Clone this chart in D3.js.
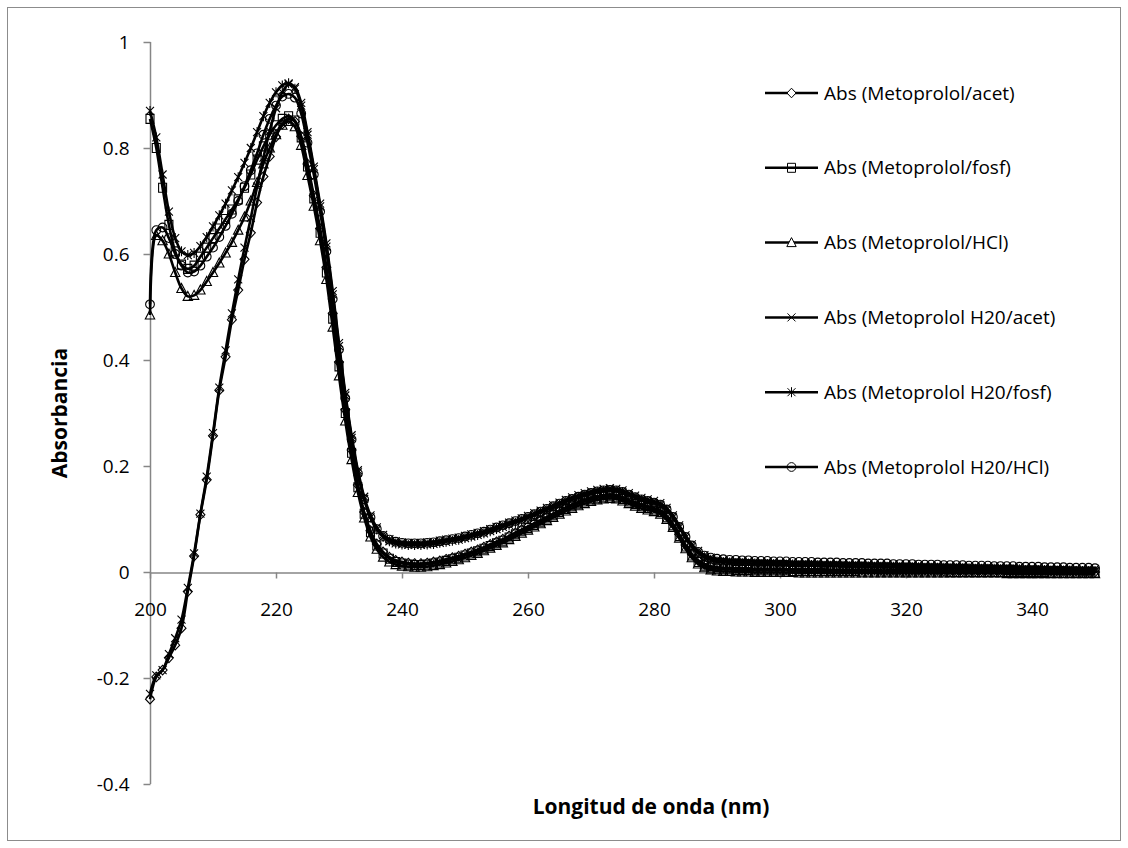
<!DOCTYPE html>
<html><head><meta charset="utf-8">
<script src="https://cdn.jsdelivr.net/npm/d3@7"></script>
<style>body{margin:0;background:#fff}svg{display:block}text{font-family:"Open Sans","Lato",sans-serif}</style>
</head><body><svg id="c" width="1128" height="848"></svg>
<script>
// wavelength grid (nm), 1 nm steps
const nmStart = 200, nmEnd = 350;
const wavelengths = d3.range(nmStart, nmEnd + 1);

const seriesNames = ["Abs (Metoprolol/acet)","Abs (Metoprolol/fosf)","Abs (Metoprolol/HCl)",
  "Abs (Metoprolol H20/acet)","Abs (Metoprolol H20/fosf)","Abs (Metoprolol H20/HCl)"];
const markerTypes = ["diamond","square","triangle","x","star","circle"];

const absAcet = [
-0.240,-0.198,-0.185,-0.162,-0.138,-0.106,-0.037,0.030,0.108,0.174,
0.257,0.343,0.406,0.476,0.532,0.590,0.640,0.697,0.746,0.784,
0.821,0.845,0.855,0.850,0.822,0.770,0.710,0.648,0.575,0.488,
0.396,0.306,0.230,0.164,0.113,0.078,0.053,0.038,0.028,0.022,
0.019,0.017,0.016,0.016,0.017,0.019,0.021,0.024,0.027,0.030,
0.034,0.038,0.042,0.047,0.052,0.057,0.062,0.068,0.074,0.080,
0.086,0.092,0.098,0.104,0.110,0.116,0.122,0.127,0.132,0.136,
0.140,0.143,0.145,0.146,0.145,0.141,0.136,0.131,0.127,0.124,
0.121,0.116,0.106,0.091,0.071,0.051,0.034,0.022,0.015,0.011,
0.009,0.008,0.008,0.007,0.007,0.007,0.006,0.006,0.006,0.006,
0.006,0.005,0.005,0.005,0.005,0.005,0.005,0.005,0.004,0.004,
0.004,0.004,0.004,0.004,0.004,0.004,0.003,0.003,0.003,0.003,
0.003,0.003,0.003,0.003,0.003,0.003,0.002,0.002,0.002,0.002,
0.002,0.002,0.002,0.002,0.002,0.002,0.002,0.001,0.001,0.001,
0.001,0.001,0.001,0.001,0.001,0.001,0.001,0.001,0.000,0.000,0.000];

const absFosf = [
0.855,0.800,0.725,0.655,0.605,0.580,0.572,0.578,0.595,0.612,
0.630,0.648,0.666,0.684,0.703,0.725,0.750,0.778,0.803,0.825,
0.843,0.855,0.860,0.852,0.820,0.765,0.705,0.640,0.565,0.478,
0.388,0.300,0.225,0.160,0.110,0.075,0.050,0.035,0.025,0.019,
0.016,0.014,0.013,0.013,0.014,0.016,0.018,0.021,0.024,0.027,
0.031,0.035,0.039,0.044,0.049,0.054,0.059,0.065,0.071,0.077,
0.083,0.089,0.095,0.101,0.107,0.113,0.119,0.124,0.129,0.133,
0.137,0.140,0.142,0.143,0.142,0.138,0.133,0.128,0.124,0.121,
0.118,0.113,0.103,0.088,0.068,0.048,0.031,0.019,0.012,0.008,
0.006,0.005,0.005,0.004,0.004,0.004,0.003,0.003,0.003,0.003,
0.003,0.003,0.002,0.002,0.002,0.002,0.002,0.002,0.002,0.002,
0.002,0.002,0.002,0.001,0.001,0.001,0.001,0.001,0.001,0.001,
0.001,0.001,0.001,0.001,0.001,0.001,0.001,0.000,0.000,0.000,
0.000,0.000,0.000,0.000,0.000,0.000,0.000,0.000,0.000,0.000,
0.000,0.000,0.000,-0.001,-0.001,-0.001,-0.001,-0.001,-0.001,-0.001,-0.001];

const absHCl = [
0.485,0.635,0.625,0.600,0.565,0.535,0.520,0.522,0.532,0.548,
0.565,0.583,0.602,0.622,0.645,0.670,0.700,0.735,0.770,0.800,
0.825,0.843,0.850,0.840,0.805,0.748,0.690,0.625,0.552,0.462,
0.370,0.285,0.212,0.150,0.102,0.066,0.043,0.028,0.019,0.014,
0.011,0.010,0.009,0.009,0.010,0.012,0.014,0.017,0.020,0.023,
0.027,0.031,0.035,0.040,0.045,0.050,0.055,0.061,0.067,0.073,
0.079,0.085,0.091,0.097,0.103,0.109,0.115,0.120,0.125,0.129,
0.133,0.136,0.138,0.139,0.138,0.134,0.129,0.124,0.120,0.117,
0.114,0.109,0.099,0.084,0.064,0.044,0.027,0.015,0.008,0.004,
0.002,0.001,0.001,0.000,0.000,0.000,-0.001,-0.001,-0.001,-0.001,
-0.001,-0.001,-0.001,-0.002,-0.002,-0.002,-0.002,-0.002,-0.002,-0.002,
-0.002,-0.002,-0.002,-0.002,-0.002,-0.002,-0.002,-0.002,-0.002,-0.002,
-0.002,-0.002,-0.002,-0.002,-0.002,-0.002,-0.002,-0.002,-0.002,-0.002,
-0.002,-0.002,-0.002,-0.002,-0.002,-0.002,-0.003,-0.003,-0.003,-0.003,
-0.003,-0.003,-0.003,-0.003,-0.003,-0.003,-0.003,-0.003,-0.003,-0.003,-0.003];

const absH2oAcet = [
-0.230,-0.195,-0.185,-0.155,-0.125,-0.090,-0.030,0.035,0.110,0.180,
0.262,0.348,0.418,0.488,0.552,0.612,0.668,0.727,0.782,0.832,
0.875,0.905,0.920,0.915,0.885,0.830,0.765,0.695,0.620,0.530,
0.432,0.338,0.258,0.192,0.142,0.107,0.084,0.070,0.062,0.058,
0.056,0.055,0.055,0.055,0.056,0.057,0.059,0.061,0.063,0.065,
0.068,0.071,0.074,0.077,0.081,0.085,0.089,0.093,0.097,0.101,
0.106,0.111,0.116,0.121,0.126,0.131,0.136,0.141,0.145,0.149,
0.152,0.155,0.157,0.158,0.157,0.154,0.149,0.144,0.140,0.137,
0.134,0.130,0.121,0.107,0.088,0.069,0.052,0.040,0.032,0.027,
0.024,0.023,0.022,0.021,0.021,0.020,0.020,0.019,0.019,0.019,
0.018,0.018,0.018,0.017,0.017,0.017,0.017,0.016,0.016,0.016,
0.016,0.015,0.015,0.015,0.015,0.014,0.014,0.014,0.014,0.013,
0.013,0.013,0.013,0.012,0.012,0.012,0.012,0.011,0.011,0.011,
0.011,0.010,0.010,0.010,0.010,0.009,0.009,0.009,0.009,0.008,
0.008,0.008,0.008,0.007,0.007,0.007,0.007,0.006,0.006,0.006,0.006];

const absH2oFosf = [
0.870,0.820,0.750,0.680,0.630,0.605,0.598,0.602,0.615,0.632,
0.652,0.673,0.695,0.720,0.745,0.772,0.800,0.830,0.860,0.885,
0.905,0.918,0.922,0.912,0.880,0.825,0.760,0.690,0.614,0.524,
0.426,0.333,0.253,0.188,0.138,0.103,0.080,0.066,0.058,0.054,
0.052,0.051,0.051,0.051,0.052,0.053,0.055,0.057,0.059,0.061,
0.064,0.067,0.070,0.073,0.077,0.081,0.085,0.089,0.093,0.097,
0.102,0.107,0.112,0.117,0.122,0.127,0.132,0.137,0.141,0.145,
0.148,0.151,0.153,0.154,0.153,0.150,0.145,0.140,0.136,0.133,
0.130,0.126,0.117,0.103,0.084,0.065,0.048,0.036,0.028,0.023,
0.020,0.019,0.018,0.017,0.017,0.016,0.016,0.015,0.015,0.015,
0.014,0.014,0.014,0.013,0.013,0.013,0.013,0.012,0.012,0.012,
0.012,0.011,0.011,0.011,0.011,0.010,0.010,0.010,0.010,0.009,
0.009,0.009,0.009,0.008,0.008,0.008,0.008,0.007,0.007,0.007,
0.007,0.006,0.006,0.006,0.006,0.005,0.005,0.005,0.005,0.004,
0.004,0.004,0.004,0.003,0.003,0.003,0.003,0.002,0.002,0.002,0.002];

const absH2oHCl = [
0.505,0.645,0.650,0.630,0.600,0.578,0.565,0.567,0.578,0.595,
0.612,0.632,0.653,0.676,0.700,0.728,0.758,0.790,0.825,0.855,
0.880,0.897,0.902,0.895,0.865,0.810,0.750,0.680,0.605,0.515,
0.420,0.328,0.250,0.186,0.137,0.103,0.081,0.068,0.061,0.057,
0.055,0.054,0.054,0.054,0.055,0.056,0.058,0.060,0.062,0.064,
0.067,0.070,0.073,0.076,0.080,0.084,0.088,0.092,0.096,0.100,
0.104,0.109,0.114,0.119,0.124,0.129,0.134,0.138,0.142,0.146,
0.149,0.152,0.154,0.155,0.154,0.151,0.146,0.141,0.137,0.134,
0.131,0.127,0.118,0.104,0.085,0.066,0.050,0.038,0.031,0.027,
0.025,0.024,0.023,0.023,0.022,0.022,0.021,0.021,0.021,0.020,
0.020,0.020,0.019,0.019,0.019,0.019,0.018,0.018,0.018,0.018,
0.017,0.017,0.017,0.017,0.016,0.016,0.016,0.016,0.015,0.015,
0.015,0.015,0.014,0.014,0.014,0.014,0.013,0.013,0.013,0.013,
0.012,0.012,0.012,0.012,0.011,0.011,0.011,0.011,0.010,0.010,
0.010,0.010,0.009,0.009,0.009,0.009,0.008,0.008,0.008,0.008,0.007];

const xTicks = [200,220,240,260,280,300,320,340];
const yTicks = [-0.4,-0.2,0,0.2,0.4,0.6,0.8,1];
const yTickLabels = ["-0.4","-0.2","0","0.2","0.4","0.6","0.8","1"];
const xTitle = "Longitud de onda (nm)";
const yTitle = "Absorbancia";

const seriesValues = [absAcet, absFosf, absHCl, absH2oAcet, absH2oFosf, absH2oHCl];

const svg = d3.select("#c");
svg.append("rect").attr("x",7.5).attr("y",7.5).attr("width",1113).attr("height",833)
  .attr("fill","#fff").attr("stroke","#8c8c8c").attr("stroke-width",1);

const x = d3.scaleLinear().domain([200,350]).range([150,1095]);
const y = d3.scaleLinear().domain([-0.4,1]).range([784,42]);
const axisColor = "#868686";

// Y axis
const yAx = svg.append("g").attr("transform","translate(150.5,0)")
  .call(d3.axisLeft(y).tickValues(yTicks).tickSize(6).tickPadding(15)
    .tickFormat((d,i) => yTickLabels[i]));
// X axis at y=0
const xAx = svg.append("g").attr("transform",`translate(0,${Math.round(y(0))+0.5})`)
  .call(d3.axisBottom(x).tickValues(xTicks).tickSize(6).tickPadding(24).tickSizeOuter(0));
[yAx,xAx].forEach(g=>{
  g.select(".domain").attr("stroke",axisColor).attr("stroke-width",1.5);
  g.selectAll(".tick line").attr("stroke",axisColor).attr("stroke-width",1.5);
  g.selectAll(".tick text").attr("fill","#000").attr("font-size",19).attr("font-family","Open Sans, sans-serif");
});
yAx.select(".domain").attr("d","M0,42V784");
yAx.selectAll(".tick line").attr("x2",-7);

// titles
svg.append("text").attr("x",651).attr("y",814).attr("text-anchor","middle")
  .attr("font-weight","bold").attr("font-size",21).text(xTitle);
svg.append("text").attr("transform","translate(67,413) rotate(-90)").attr("text-anchor","middle")
  .attr("font-weight","bold").attr("font-size",21).text(yTitle);

function markerPath(type){
  switch(type){
    case "diamond": return `M0,${-4.8}L4.5,0L0,4.8L-4.5,0Z`;
    case "square": return `M-4,-4.5H4V4.5H-4Z`;
    case "triangle": return `M0,-5L4.7,4L-4.7,4Z`;
    case "x": return `M-4,-4L4,4M-4,4L4,-4`;
    case "star": return `M-4,-4L4,4M-4,4L4,-4M0,-5V5`;
    case "circle": return d3.symbol(d3.symbolCircle, 60)();
  }
}

const line = d3.line().x(d=>x(d[0])).y(d=>y(d[1])).curve(d3.curveCatmullRom);
const plot = svg.append("g");
seriesValues.forEach((vals,i)=>{
  const pts = wavelengths.map((w,j)=>[w, vals[j]]);
  plot.append("path").attr("d",line(pts)).attr("fill","none").attr("stroke","#000").attr("stroke-width",2.6);
});
seriesValues.forEach((vals,i)=>{
  const pts = wavelengths.map((w,j)=>[w, vals[j]]);
  plot.append("g").selectAll("path").data(pts).join("path")
    .attr("transform",d=>`translate(${x(d[0])},${y(d[1])})`)
    .attr("d",markerPath(markerTypes[i])).attr("fill","none").attr("stroke","#000").attr("stroke-width",1.1);
});

// legend
const legY0 = 93, legStep = 74.8;
const leg = svg.append("g");
seriesNames.forEach((n,i)=>{
  const yy = legY0 + i*legStep;
  leg.append("line").attr("x1",765).attr("x2",818).attr("y1",yy).attr("y2",yy).attr("stroke","#000").attr("stroke-width",2.5);
  leg.append("path").attr("transform",`translate(791.5,${yy})`).attr("d",markerPath(markerTypes[i]))
    .attr("fill", (markerTypes[i]==="diamond"||markerTypes[i]==="triangle")?"#fff":"none").attr("stroke","#000").attr("stroke-width",1);
  leg.append("text").attr("x",824).attr("y",yy).attr("dy","0.35em").attr("font-size",19).text(n);
});
</script></body></html>
